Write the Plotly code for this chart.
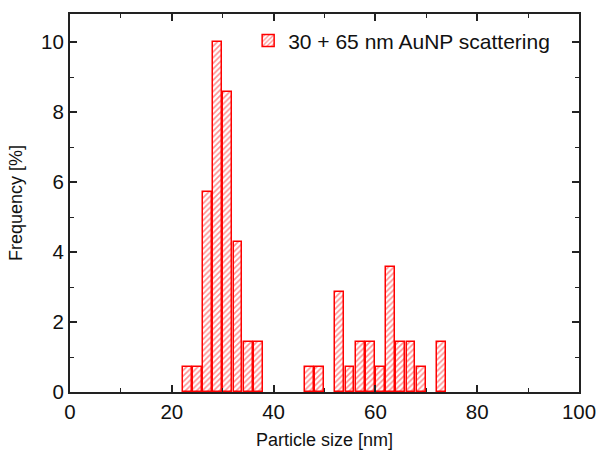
import plotly.graph_objects as go

sizes = [23, 25, 27, 29, 31, 33, 35, 37,
         47, 49, 53, 55, 57, 59, 61, 63, 65, 67, 69, 73]
freq = [0.714, 0.714, 5.714, 10.0, 8.571, 4.286, 1.429, 1.429,
        0.714, 0.714, 2.857, 0.714, 1.429, 1.429, 0.714, 3.571, 1.429, 1.429, 0.714, 1.429]
series_name = "30 + 65 nm AuNP scattering"

fig = go.Figure()
fig.add_trace(go.Bar(
    x=sizes, y=freq, width=1.75, name=series_name, showlegend=True,
    marker=dict(color="white",
                line=dict(color="#ff0000", width=1.5),
                pattern=dict(shape="/", fgcolor="#ff2020", bgcolor="#ffffff",
                             size=4, solidity=0.4)),
))

FONT = "Liberation Sans, Arial"
axis_common = dict(
    showline=True, linecolor="#222222", linewidth=2, mirror="ticks",
    ticks="inside", ticklen=7, tickwidth=1.5, tickcolor="#222222",
    showgrid=False, zeroline=False, automargin=False,
    tickfont=dict(family=FONT, size=20.5, color="#111111"),
)

fig.update_layout(
    width=598, height=452,
    margin=dict(l=70, r=19, t=14, b=60, autoexpand=False),
    plot_bgcolor="white", paper_bgcolor="white",
    font=dict(family=FONT, color="#111111"),
    xaxis=dict(range=[0, 100], dtick=20, tick0=0,
               minor=dict(ticks="inside", dtick=10, ticklen=4, tickcolor="#222222", tickwidth=1),
               title=dict(text="Particle size [nm]", font=dict(size=18), standoff=12),
               **axis_common),
    yaxis=dict(range=[0, 10.8], dtick=2, tick0=0,
               minor=dict(ticks="inside", dtick=1, ticklen=4, tickcolor="#222222", tickwidth=1),
               title=dict(text="Frequency [%]", font=dict(size=18), standoff=14),
               **axis_common),
    legend=dict(x=0.35, y=0.929, xanchor="left", yanchor="middle",
                bgcolor="rgba(0,0,0,0)", font=dict(size=21, family=FONT)),
    bargap=0,
)

fig.write_html("out.html")
